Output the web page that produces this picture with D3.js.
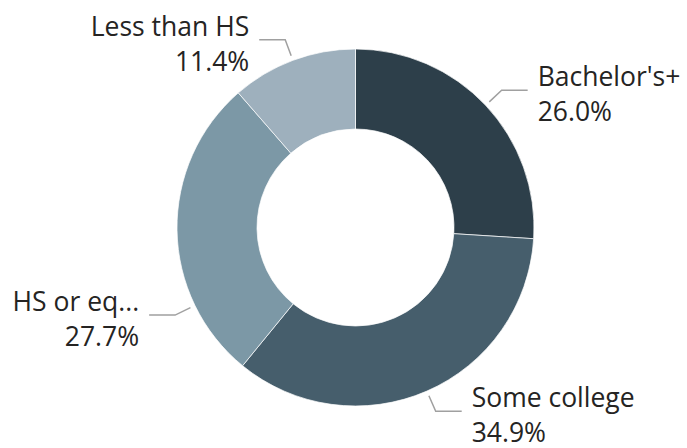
<!DOCTYPE html>
<html>
<head>
<meta charset="utf-8">
<script src="https://cdn.jsdelivr.net/npm/d3@7"></script>
<style>
  html, body { margin: 0; padding: 0; background: #fff; }
  svg text { font-family: "Segoe UI", "Open Sans", sans-serif; fill: #252423; }
</style>
</head>
<body>
<svg id="donut" width="687" height="448"></svg>
<script>
var categories = ["Bachelor's+", "Some college", "HS or eq...", "Less than HS"];
var shares = [26.0, 34.9, 27.7, 11.4];
var colors = ["#2d3f4a", "#465e6c", "#7c98a6", "#9eb0bd"];

var width = 687, height = 448,
    cx = 355.5, cy = 227.5,
    outerR = 178.5, innerR = 98.5;

// Power BI nudges the left label down, so the leader starts lower than mid-angle
var labelNudge = [0, 0, -25, 0];

var svg = d3.select("#donut");
var g = svg.append("g").attr("transform", "translate(" + cx + "," + cy + ")");

var items = categories.map(function (c, i) {
    return { name: c, value: shares[i], color: colors[i], nudge: labelNudge[i] };
});

var pie = d3.pie().sort(null).value(function (d) { return d.value; });
var arc = d3.arc().innerRadius(innerR).outerRadius(outerR);
var arcs = pie(items);

g.selectAll("path.slice")
    .data(arcs)
    .enter().append("path")
    .attr("class", "slice")
    .attr("d", arc)
    .attr("fill", function (d) { return d.data.color; })
    .attr("stroke", "#fff")
    .attr("stroke-width", 0.7);

function polar(angle, r) {
    return [r * Math.sin(angle), -r * Math.cos(angle)];
}

arcs.forEach(function (d) {
    var mid = (d.startAngle + d.endAngle) / 2 + d.data.nudge * Math.PI / 180;
    var p0 = polar(mid, outerR + 5),
        p1 = polar(mid, outerR + 22);
    var right = Math.sin(mid) > 0;
    var p2 = [p1[0] + (right ? 26 : -26), p1[1]];

    g.append("polyline")
        .attr("points", [p0, p1, p2].map(function (p) { return p.join(","); }).join(" "))
        .attr("fill", "none")
        .attr("stroke", "#a0a0a0")
        .attr("stroke-width", 1.5);

    var tx = p2[0] + (right ? 10 : -10);
    var label = g.append("text")
        .attr("x", tx)
        .attr("y", p1[1] - 4)
        .attr("text-anchor", right ? "start" : "end")
        .style("font-size", "26.5px");
    label.append("tspan").attr("x", tx).text(d.data.name);
    label.append("tspan").attr("x", tx).attr("dy", 35).text(d.data.value.toFixed(1) + "%");
});
</script>
</body>
</html>
